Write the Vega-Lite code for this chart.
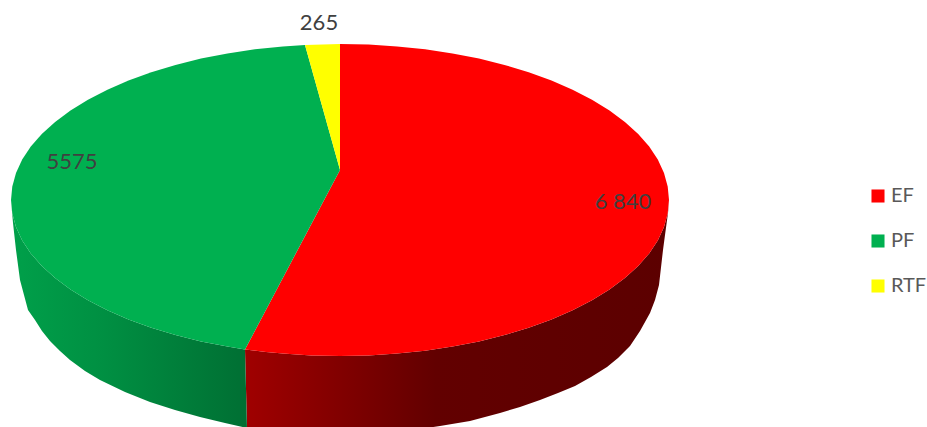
{"$schema":"https://vega.github.io/schema/vega-lite/v6.json","width":927,"height":427,"padding":0,"autosize":{"type":"fit","contains":"padding"},"background":"white","view":{"stroke":null},
"config":{"font":"Lato"},
"datasets":{
"wall_ef":[{"o":0,"x":245,"y":349.4},{"o":1,"x":266,"y":352},{"o":2,"x":282.9,"y":353.6},{"o":3,"x":311.3,"y":355.4},{"o":4,"x":340,"y":356},{"o":5,"x":368.7,"y":355.4},{"o":6,"x":397.1,"y":353.6},{"o":7,"x":425.1,"y":350.7},{"o":8,"x":452.5,"y":346.6},{"o":9,"x":479,"y":341.4},{"o":10,"x":504.5,"y":335.1},{"o":11,"x":528.7,"y":327.8},{"o":12,"x":551.5,"y":319.5},{"o":13,"x":572.6,"y":310.3},{"o":14,"x":592,"y":300.3},{"o":15,"x":609.5,"y":289.5},{"o":16,"x":624.9,"y":278},{"o":17,"x":638.2,"y":265.9},{"o":18,"x":649.2,"y":253.4},{"o":19,"x":657.8,"y":240.4},{"o":20,"x":664,"y":227.1},{"o":21,"x":667.7,"y":213.6},{"o":22,"x":669,"y":200},{"o":23,"x":668,"y":213},{"o":24,"x":665,"y":235},{"o":25,"x":663,"y":250},{"o":26,"x":659,"y":285},{"o":27,"x":655,"y":300},{"o":28,"x":650,"y":313},{"o":29,"x":640,"y":331},{"o":30,"x":630,"y":346},{"o":31,"x":618,"y":358},{"o":32,"x":607,"y":367},{"o":33,"x":591,"y":377},{"o":34,"x":575,"y":386},{"o":35,"x":558,"y":393},{"o":36,"x":540,"y":400},{"o":37,"x":520,"y":407},{"o":38,"x":500,"y":413},{"o":39,"x":485,"y":417},{"o":40,"x":470,"y":421},{"o":41,"x":440,"y":426},{"o":42,"x":400,"y":432},{"o":43,"x":340,"y":435},{"o":44,"x":300,"y":432},{"o":45,"x":247,"y":428}],
"wall_pf":[{"o":0,"x":11,"y":200},{"o":1,"x":12.3,"y":213.6},{"o":2,"x":16,"y":227.1},{"o":3,"x":22.2,"y":240.4},{"o":4,"x":30.8,"y":253.4},{"o":5,"x":41.8,"y":265.9},{"o":6,"x":55.1,"y":278},{"o":7,"x":70.5,"y":289.5},{"o":8,"x":88,"y":300.3},{"o":9,"x":107.4,"y":310.3},{"o":10,"x":128.5,"y":319.5},{"o":11,"x":151.3,"y":327.8},{"o":12,"x":175.5,"y":335.1},{"o":13,"x":201,"y":341.4},{"o":14,"x":227.5,"y":346.6},{"o":15,"x":245,"y":349.4},{"o":16,"x":247,"y":428},{"o":17,"x":225,"y":423},{"o":18,"x":200,"y":417},{"o":19,"x":175,"y":410},{"o":20,"x":150,"y":402},{"o":21,"x":125,"y":392},{"o":22,"x":100,"y":380},{"o":23,"x":85,"y":371},{"o":24,"x":70,"y":360},{"o":25,"x":60,"y":351},{"o":26,"x":50,"y":341},{"o":27,"x":42,"y":331},{"o":28,"x":35,"y":320},{"o":29,"x":28,"y":310},{"o":30,"x":24,"y":295},{"o":31,"x":20,"y":280},{"o":32,"x":16,"y":250},{"o":33,"x":13,"y":223}],
"top":[
{"slice":"EF","o":0,"x":340,"y":170},{"slice":"EF","o":1,"x":340,"y":44},{"slice":"EF","o":2,"x":368.7,"y":44.6},{"slice":"EF","o":3,"x":397.1,"y":46.4},{"slice":"EF","o":4,"x":425.1,"y":49.3},{"slice":"EF","o":5,"x":452.5,"y":53.4},{"slice":"EF","o":6,"x":479,"y":58.6},{"slice":"EF","o":7,"x":504.5,"y":64.9},{"slice":"EF","o":8,"x":528.7,"y":72.2},{"slice":"EF","o":9,"x":551.5,"y":80.5},{"slice":"EF","o":10,"x":572.6,"y":89.7},{"slice":"EF","o":11,"x":592,"y":99.7},{"slice":"EF","o":12,"x":609.5,"y":110.5},{"slice":"EF","o":13,"x":624.9,"y":122},{"slice":"EF","o":14,"x":638.2,"y":134.1},{"slice":"EF","o":15,"x":649.2,"y":146.6},{"slice":"EF","o":16,"x":657.8,"y":159.6},{"slice":"EF","o":17,"x":664,"y":172.9},{"slice":"EF","o":18,"x":667.7,"y":186.4},{"slice":"EF","o":19,"x":669,"y":200},{"slice":"EF","o":20,"x":667.7,"y":213.6},{"slice":"EF","o":21,"x":664,"y":227.1},{"slice":"EF","o":22,"x":657.8,"y":240.4},{"slice":"EF","o":23,"x":649.2,"y":253.4},{"slice":"EF","o":24,"x":638.2,"y":265.9},{"slice":"EF","o":25,"x":624.9,"y":278},{"slice":"EF","o":26,"x":609.5,"y":289.5},{"slice":"EF","o":27,"x":592,"y":300.3},{"slice":"EF","o":28,"x":572.6,"y":310.3},{"slice":"EF","o":29,"x":551.5,"y":319.5},{"slice":"EF","o":30,"x":528.7,"y":327.8},{"slice":"EF","o":31,"x":504.5,"y":335.1},{"slice":"EF","o":32,"x":479,"y":341.4},{"slice":"EF","o":33,"x":452.5,"y":346.6},{"slice":"EF","o":34,"x":425.1,"y":350.7},{"slice":"EF","o":35,"x":397.1,"y":353.6},{"slice":"EF","o":36,"x":368.7,"y":355.4},{"slice":"EF","o":37,"x":340,"y":356},{"slice":"EF","o":38,"x":311.3,"y":355.4},{"slice":"EF","o":39,"x":282.9,"y":353.6},{"slice":"EF","o":40,"x":266,"y":352},{"slice":"EF","o":41,"x":245,"y":349.4},
{"slice":"PF","o":0,"x":340,"y":170},{"slice":"PF","o":1,"x":245,"y":349.4},{"slice":"PF","o":2,"x":227.5,"y":346.6},{"slice":"PF","o":3,"x":201,"y":341.4},{"slice":"PF","o":4,"x":175.5,"y":335.1},{"slice":"PF","o":5,"x":151.3,"y":327.8},{"slice":"PF","o":6,"x":128.5,"y":319.5},{"slice":"PF","o":7,"x":107.4,"y":310.3},{"slice":"PF","o":8,"x":88,"y":300.3},{"slice":"PF","o":9,"x":70.5,"y":289.5},{"slice":"PF","o":10,"x":55.1,"y":278},{"slice":"PF","o":11,"x":41.8,"y":265.9},{"slice":"PF","o":12,"x":30.8,"y":253.4},{"slice":"PF","o":13,"x":22.2,"y":240.4},{"slice":"PF","o":14,"x":16,"y":227.1},{"slice":"PF","o":15,"x":12.3,"y":213.6},{"slice":"PF","o":16,"x":11,"y":200},{"slice":"PF","o":17,"x":12.3,"y":186.4},{"slice":"PF","o":18,"x":16,"y":172.9},{"slice":"PF","o":19,"x":22.2,"y":159.6},{"slice":"PF","o":20,"x":30.8,"y":146.6},{"slice":"PF","o":21,"x":41.8,"y":134.1},{"slice":"PF","o":22,"x":55.1,"y":122},{"slice":"PF","o":23,"x":70.5,"y":110.5},{"slice":"PF","o":24,"x":88,"y":99.7},{"slice":"PF","o":25,"x":107.4,"y":89.7},{"slice":"PF","o":26,"x":128.5,"y":80.5},{"slice":"PF","o":27,"x":151.3,"y":72.2},{"slice":"PF","o":28,"x":175.5,"y":64.9},{"slice":"PF","o":29,"x":201,"y":58.6},{"slice":"PF","o":30,"x":227.5,"y":53.4},{"slice":"PF","o":31,"x":254.9,"y":49.3},{"slice":"PF","o":32,"x":282.9,"y":46.4},{"slice":"PF","o":33,"x":305,"y":44.9},
{"slice":"RTF","o":0,"x":340,"y":170},{"slice":"RTF","o":1,"x":305,"y":44.9},{"slice":"RTF","o":2,"x":340,"y":44}],
"labels":[{"slice":"EF","value":"6 840","x":623,"y":202},{"slice":"PF","value":"5575","x":72,"y":162},{"slice":"RTF","value":"265","x":319,"y":23}]
},
"layer":[
{"data":{"name":"wall_ef"},
"mark":{"type":"line","clip":true,"strokeWidth":0,"fill":{"x1":0,"y1":0,"x2":1,"y2":0,"gradient":"linear","stops":[{"offset":0,"color":"#a00000"},{"offset":0.45,"color":"#620000"},{"offset":1,"color":"#5c0000"}]}},
"encoding":{"x":{"field":"x","type":"quantitative","scale":{"domain":[0,927]},"axis":null},"y":{"field":"y","type":"quantitative","scale":{"domain":[427,0]},"axis":null},"order":{"field":"o","type":"quantitative"}}},
{"data":{"name":"wall_pf"},
"mark":{"type":"line","clip":true,"strokeWidth":0,"fill":{"x1":0,"y1":0,"x2":1,"y2":0,"gradient":"linear","stops":[{"offset":0,"color":"#00a04a"},{"offset":0.4,"color":"#008f42"},{"offset":1,"color":"#006f33"}]}},
"encoding":{"x":{"field":"x","type":"quantitative","scale":{"domain":[0,927]},"axis":null},"y":{"field":"y","type":"quantitative","scale":{"domain":[427,0]},"axis":null},"order":{"field":"o","type":"quantitative"}}},
{"data":{"name":"top"},
"mark":{"type":"line","clip":true,"strokeWidth":0,"filled":true},
"encoding":{"x":{"field":"x","type":"quantitative","scale":{"domain":[0,927]},"axis":null},"y":{"field":"y","type":"quantitative","scale":{"domain":[427,0]},"axis":null},"order":{"field":"o","type":"quantitative"},
"fill":{"field":"slice","type":"nominal","scale":{"domain":["EF","PF","RTF"],"range":["#ff0000","#00b050","#ffff00"]},"legend":{"title":null,"orient":"none","legendX":868,"legendY":186,"symbolType":"square","symbolSize":170,"symbolStrokeWidth":0,"labelFontSize":20,"labelColor":"#595959","labelFont":"Lato","rowPadding":25,"labelOffset":3}}}},
{"data":{"name":"labels"},
"mark":{"type":"text","fontSize":22,"color":"#404040","font":"Lato","align":"center","baseline":"middle"},
"encoding":{"x":{"field":"x","type":"quantitative","scale":{"domain":[0,927]},"axis":null},"y":{"field":"y","type":"quantitative","scale":{"domain":[427,0]},"axis":null},"text":{"field":"value"}}}
]}
